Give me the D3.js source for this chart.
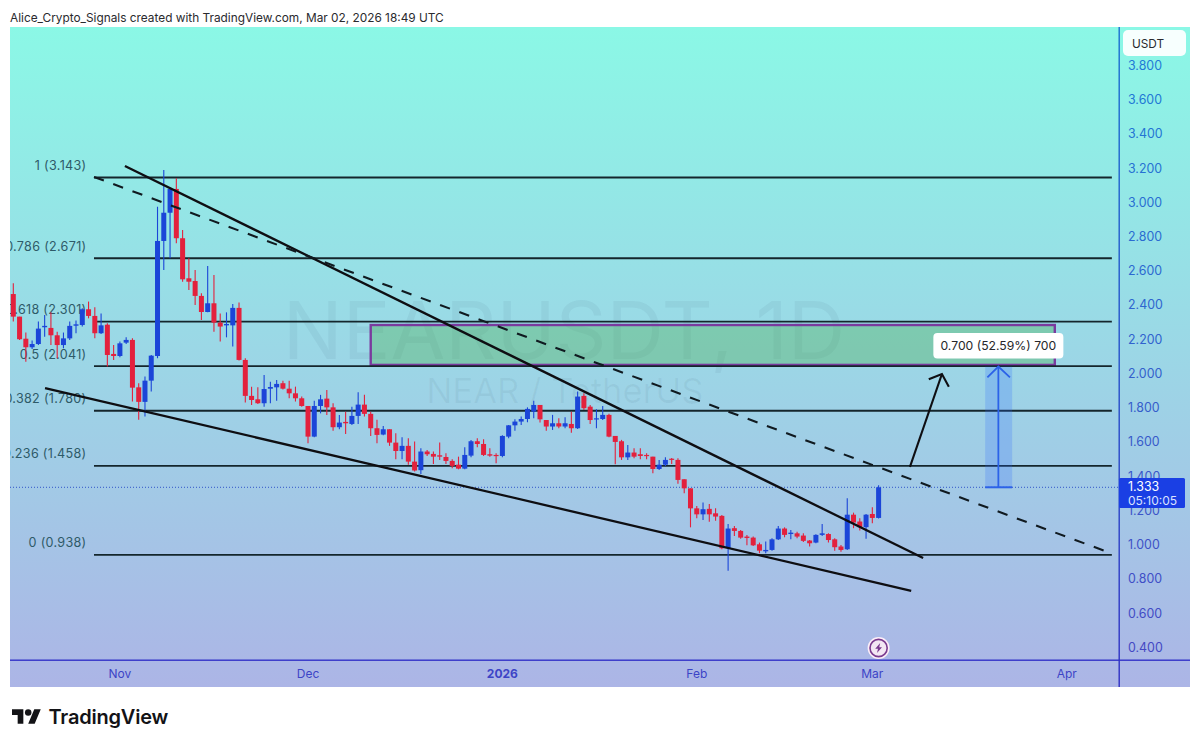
<!DOCTYPE html>
<html><head><meta charset="utf-8">
<script src="https://cdnjs.cloudflare.com/ajax/libs/d3/7.8.5/d3.min.js"></script>
<style>html,body{margin:0;padding:0;background:#fff;overflow:hidden}svg{display:block;font-family:Inter,"Noto Sans",sans-serif}</style>
</head><body><svg id="c" width="1200" height="747"></svg>
<script>
// Daily candles, first candle = 15 Oct 2025, index = day number
const opens=[2.462,2.330,2.201,2.151,2.170,2.268,2.264,2.221,2.164,2.203,
2.277,2.281,2.373,2.334,2.233,2.283,2.112,2.100,2.178,2.194,
1.917,1.832,1.956,2.100,2.772,2.937,3.076,2.788,2.554,2.538,
2.451,2.357,2.408,2.295,2.279,2.279,2.381,2.077,1.867,1.847,
1.824,1.909,1.917,1.941,1.909,1.882,1.853,1.808,1.629,1.808,
1.851,1.800,1.684,1.715,1.703,1.750,1.816,1.762,1.678,1.641,
1.672,1.594,1.545,1.575,1.483,1.433,1.542,1.528,1.520,1.510,
1.487,1.465,1.442,1.518,1.602,1.586,1.526,1.522,1.516,1.629,
1.695,1.717,1.732,1.775,1.814,1.726,1.688,1.707,1.688,1.703,
1.678,1.867,1.804,1.730,1.732,1.756,1.633,1.602,1.508,1.536,
1.526,1.522,1.512,1.440,1.465,1.500,1.493,1.380,1.327,1.210,
1.175,1.207,1.181,1.166,0.977,1.094,1.078,1.045,1.039,1.000,
0.959,0.967,1.029,1.092,1.060,1.064,1.051,1.022,1.010,1.055,
1.060,1.029,0.987,0.971,1.173,1.133,1.100,1.177,1.154];
const closes=[2.330,2.198,2.151,2.170,2.260,2.276,2.221,2.164,2.203,2.276,
2.285,2.373,2.334,2.233,2.279,2.106,2.100,2.174,2.194,1.915,
1.832,1.956,2.102,2.772,2.937,3.076,2.788,2.548,2.534,2.451,
2.357,2.408,2.295,2.272,2.287,2.381,2.077,1.867,1.843,1.824,
1.907,1.919,1.937,1.909,1.882,1.853,1.808,1.629,1.808,1.847,
1.800,1.684,1.711,1.707,1.750,1.816,1.762,1.678,1.639,1.672,
1.594,1.545,1.575,1.483,1.431,1.542,1.526,1.512,1.512,1.487,
1.458,1.442,1.522,1.602,1.586,1.522,1.518,1.516,1.633,1.695,
1.717,1.732,1.791,1.814,1.730,1.688,1.707,1.688,1.707,1.678,
1.863,1.795,1.726,1.736,1.756,1.629,1.598,1.508,1.536,1.512,
1.516,1.516,1.440,1.465,1.493,1.493,1.376,1.327,1.210,1.175,
1.205,1.175,1.162,0.977,1.092,1.078,1.039,1.037,0.994,0.963,
0.967,1.029,1.092,1.055,1.068,1.045,1.020,1.006,1.055,1.064,
1.025,0.983,0.967,1.173,1.127,1.100,1.173,1.154,1.333];
const highs=[2.525,2.330,2.237,2.190,2.301,2.340,2.355,2.242,2.237,2.301,
2.307,2.379,2.418,2.385,2.349,2.291,2.164,2.184,2.209,2.203,
1.941,1.980,2.106,2.972,3.187,3.080,3.138,2.836,2.671,2.603,
2.466,2.626,2.573,2.349,2.355,2.404,2.412,2.087,1.921,1.917,
1.989,1.950,1.960,1.956,1.956,1.921,1.863,1.808,1.839,1.873,
1.902,1.824,1.756,1.775,1.804,1.888,1.873,1.775,1.727,1.691,
1.672,1.649,1.625,1.619,1.600,1.561,1.551,1.542,1.594,1.532,
1.497,1.512,1.567,1.610,1.619,1.614,1.561,1.532,1.637,1.697,
1.730,1.746,1.800,1.839,1.814,1.726,1.756,1.736,1.742,1.775,
1.892,1.882,1.814,1.789,1.808,1.762,1.633,1.610,1.580,1.561,
1.561,1.532,1.512,1.493,1.508,1.504,1.502,1.380,1.327,1.224,
1.244,1.236,1.210,1.171,1.119,1.107,1.084,1.055,1.045,1.010,
1.016,1.035,1.107,1.099,1.084,1.074,1.064,1.025,1.059,1.119,
1.064,1.035,0.996,1.269,1.185,1.152,1.177,1.216,1.345];
const lows=[2.301,2.194,2.067,2.141,2.164,2.213,2.164,2.087,2.145,2.194,
2.233,2.272,2.320,2.203,2.229,2.038,2.077,2.092,2.170,1.834,
1.727,1.746,1.892,2.087,2.603,2.671,2.758,2.534,2.486,2.398,
2.311,2.355,2.242,2.184,2.209,2.155,2.073,1.828,1.814,1.820,
1.804,1.824,1.839,1.905,1.853,1.834,1.804,1.590,1.625,1.765,
1.756,1.664,1.672,1.645,1.697,1.703,1.746,1.633,1.590,1.637,
1.575,1.497,1.497,1.464,1.425,1.411,1.516,1.469,1.493,1.469,
1.444,1.438,1.438,1.508,1.567,1.516,1.512,1.473,1.508,1.619,
1.664,1.697,1.713,1.736,1.711,1.664,1.668,1.678,1.678,1.652,
1.674,1.785,1.703,1.678,1.726,1.625,1.467,1.493,1.493,1.502,
1.497,1.497,1.415,1.434,1.458,1.469,1.353,1.298,1.099,1.152,
1.142,1.132,1.138,0.971,0.846,1.049,1.033,0.994,0.990,0.948,
0.948,0.963,1.025,1.041,1.029,1.035,1.014,0.987,1.006,1.049,
1.010,0.963,0.957,0.967,1.094,1.080,1.033,1.123,1.150];

const priceTicks=[3.8,3.6,3.4,3.2,3.0,2.8,2.6,2.4,2.2,2.0,1.8,1.6,1.4,1.2,1.0,0.8,0.6,0.4];
const timeTickDays=[17,47,78,109,137,168];
const timeTickLabels=["Nov","Dec","2026","Feb","Mar","Apr"];

const fibLevels=[1,0.786,0.618,0.5,0.382,0.236,0];
const fibPrices=[3.143,2.671,2.301,2.041,1.780,1.458,0.938];
const fibDays=[12.87,175.2];

const trendUpper=[[17.8,3.210],[145.1,0.920]];
const trendDashed=[[12.87,3.146],[174.9,0.950]];
const trendLower=[[5.06,1.913],[143.2,0.728]];
const arrowShaft=[[143.0,1.452],[148.1,1.995]];
const arrowHead=[[146.0,1.964],[148.1,1.995],[149.2,1.921]];

const zoneDays=[57.0,166.1], zonePrices=[2.281,2.048];
const measureDays=[155.0,157.1,159.3], measurePrices=[2.038,1.333];
const measureHeadPrices=[1.975];
const lastPrice=1.333;

const W=1200,H=747,plotL=10,plotR=1190,plotT=27,plotB=687,paneR=1119,paneB=660;
const x=d3.scaleLinear().domain([0,138]).range([13.3,878.6]);
const y=d3.scaleLinear().domain([3.8,0.4]).range([65,647]);
const fmt=d3.format(".3f");
const red="#e3213d",blue="#1b45d8";
const tickColor=d3.scaleLinear().domain([65,647]).range(["#1f7ad6","#4448c4"]);
const svg=d3.select("#c");
const defs=svg.append("defs");
const g=defs.append("linearGradient").attr("id","bg").attr("x1",0).attr("x2",0).attr("y1",0).attr("y2",1);
g.append("stop").attr("offset",0).attr("stop-color","#8bf8e6");
g.append("stop").attr("offset",1).attr("stop-color","#acb5e6");
const ag=defs.append("linearGradient").attr("id","axisLine").attr("gradientUnits","userSpaceOnUse").attr("x1",0).attr("x2",0).attr("y1",plotT).attr("y2",plotB);
ag.append("stop").attr("offset",0).attr("stop-color","#1a70d0");
ag.append("stop").attr("offset",1).attr("stop-color","#3030c4");
defs.append("clipPath").attr("id","pane").append("rect").attr("x",plotL).attr("y",plotT).attr("width",paneR-plotL).attr("height",paneB-plotT);

svg.append("text").attr("x",10).attr("y",21.5).attr("font-size",11.85).attr("fill","#2a2a2e").text("Alice_Crypto_Signals created with TradingView.com, Mar 02, 2026 18:49 UTC");
svg.append("rect").attr("x",plotL).attr("y",plotT).attr("width",plotR-plotL).attr("height",plotB-plotT).attr("fill","url(#bg)");

const pane=svg.append("g").attr("clip-path","url(#pane)");
pane.append("text").attr("x",564).attr("y",359).attr("text-anchor","middle").attr("font-size",79.5).attr("fill","#1d3a50").attr("fill-opacity",.06).text("NEARUSDT, 1D");
pane.append("text").attr("x",565).attr("y",403).attr("text-anchor","middle").attr("font-size",34.5).attr("fill","#1d3a50").attr("fill-opacity",.06).text("NEAR / TetherUS");

pane.append("rect").attr("x",x(zoneDays[0])).attr("y",y(zonePrices[0])).attr("width",x(zoneDays[1])-x(zoneDays[0])).attr("height",y(zonePrices[1])-y(zonePrices[0]))
 .attr("fill","#4caf50").attr("fill-opacity",.36).attr("stroke","#7a3a9e").attr("stroke-width",2.4);

// Fibonacci
pane.selectAll(".fib").data(fibPrices).join("line").attr("class","fib").attr("x1",x(fibDays[0])).attr("x2",x(fibDays[1])).attr("y1",d=>y(d)).attr("y2",d=>y(d)).attr("stroke","#14262c").attr("stroke-width",1.9);
pane.selectAll(".fibl").data(fibPrices).join("text").attr("class","fibl").attr("x",x(fibDays[0])-7.5).attr("y",d=>y(d)-12).attr("dy","0.35em").attr("text-anchor","end").attr("font-size",12.6).attr("letter-spacing",".3").attr("fill","#2e5a68").text((d,i)=>`${fibLevels[i]} (${fmt(d)})`);

// Last price line
pane.append("line").attr("x1",plotL).attr("x2",paneR).attr("y1",y(lastPrice)).attr("y2",y(lastPrice)).attr("stroke","#2f55c8").attr("stroke-width",1).attr("stroke-dasharray","1 2");

// Candles
const idx=d3.range(opens.length);
const col=i=>closes[i]>=opens[i]?blue:red;
pane.selectAll(".wick").data(idx).join("line").attr("class","wick").attr("x1",i=>x(i)).attr("x2",i=>x(i)).attr("y1",i=>y(highs[i])).attr("y2",i=>y(lows[i])).attr("stroke",col).attr("stroke-width",1.1);
pane.selectAll(".body").data(idx).join("rect").attr("class","body").attr("x",i=>x(i)-2.5).attr("width",5).attr("y",i=>y(Math.max(opens[i],closes[i]))).attr("height",i=>Math.max(1.2,Math.abs(y(opens[i])-y(closes[i])))).attr("fill",col);

// Trend lines
const ln=d3.line().x(d=>x(d[0])).y(d=>y(d[1]));
pane.append("path").attr("d",ln(trendUpper)).attr("fill","none").attr("stroke","#0e0e12").attr("stroke-width",2.3);
pane.append("path").attr("d",ln(trendLower)).attr("fill","none").attr("stroke","#0e0e12").attr("stroke-width",2.3);
pane.append("path").attr("d",ln(trendDashed)).attr("fill","none").attr("stroke","#101a20").attr("stroke-width",2.1).attr("stroke-dasharray","10.5 10");
pane.append("path").attr("d",ln(arrowShaft)).attr("fill","none").attr("stroke","#0e0e12").attr("stroke-width",2.1);
pane.append("path").attr("d",ln(arrowHead)).attr("fill","none").attr("stroke","#0e0e12").attr("stroke-width",2.1);

// Measure tool
pane.append("rect").attr("x",x(measureDays[0])).attr("width",x(measureDays[2])-x(measureDays[0])).attr("y",y(measurePrices[0])).attr("height",y(measurePrices[1])-y(measurePrices[0])).attr("fill","#2f6bff").attr("fill-opacity",.22);
pane.append("path").attr("d",ln([[measureDays[1],measurePrices[0]],[measureDays[1],measurePrices[1]]])).attr("stroke","#2c62e8").attr("stroke-width",1.8).attr("fill","none");
pane.append("path").attr("d",ln([[measureDays[0],measurePrices[1]],[measureDays[2],measurePrices[1]]])).attr("stroke","#2c62e8").attr("stroke-width",2).attr("fill","none");
pane.append("path").attr("d",ln([[measureDays[0]+.35,measureHeadPrices[0]],[measureDays[1],measurePrices[0]],[measureDays[2]-.35,measureHeadPrices[0]]])).attr("stroke","#2c62e8").attr("stroke-width",1.8).attr("fill","none");

// Measure label
const mx=x(measureDays[1]);
pane.append("rect").attr("x",mx-65).attr("y",333).attr("width",130).attr("height",25.5).attr("rx",4).attr("fill","#fff");
pane.append("text").attr("x",mx).attr("y",346).attr("dy","0.35em").attr("text-anchor","middle").attr("font-size",12.2).attr("fill","#26262a").text("0.700 (52.59%) 700");

// Axes
svg.append("rect").attr("x",plotL).attr("width",plotR-plotL).attr("y",paneB-.5).attr("height",1.4).attr("fill","#3232c8");
svg.append("rect").attr("x",paneR-.5).attr("width",1.4).attr("y",plotT).attr("height",plotB-plotT).attr("fill","url(#axisLine)");

svg.selectAll(".pt").data(priceTicks).join("text").attr("class","pt").attr("x",1128).attr("y",d=>y(d)+.5).attr("dy","0.35em").attr("font-size",12.4).attr("fill",d=>tickColor(y(d))).text(fmt);
svg.selectAll(".tt").data(timeTickDays).join("text").attr("class","tt").attr("x",d=>x(d)).attr("y",674).attr("dy","0.35em").attr("text-anchor","middle").attr("font-size",12).attr("font-weight",(d,i)=>timeTickLabels[i]==="2026"?700:400).attr("fill","#3c44c6").text((d,i)=>timeTickLabels[i]);

svg.append("rect").attr("x",1123).attr("y",30).attr("width",63).attr("height",26).attr("rx",5).attr("fill","#fff").attr("fill-opacity",.93);
svg.append("text").attr("x",1132).attr("y",43.5).attr("dy","0.35em").attr("font-size",11.8).attr("fill","#2a2a2e").text("USDT");

// Price tag
svg.append("rect").attr("x",paneR).attr("y",478).attr("width",66).attr("height",30).attr("rx",1.5).attr("fill","#1a3fe4");
svg.append("text").attr("x",1128).attr("y",487).attr("dy","0.35em").attr("font-size",12.4).attr("fill","#fff").text(fmt(lastPrice));
svg.append("text").attr("x",1128).attr("y",501).attr("dy","0.35em").attr("font-size",12).attr("fill","#dbe2ff").text("05:10:05");

// Lightning badge
const ic=svg.append("g").attr("transform",`translate(${x(138)},648)`);
ic.append("circle").attr("r",11).attr("fill","#fdeef8");
ic.append("circle").attr("r",8.6).attr("fill","#f3e6f3").attr("stroke","#7a3a8e").attr("stroke-width",1.6);
ic.append("path").attr("d","M1.6-5L-3.4 0.8H-0.6L-1.6 5L3.4-0.8H0.6Z").attr("fill","#7a3a8e");

// Logo
const logo=svg.append("g").attr("transform","translate(12,706) scale(.81)").attr("fill","#131316");
logo.append("path").attr("d","M14 22H7V11H0V4h14v18zM28 22h-8l7.5-18h8L28 22z");
logo.append("circle").attr("cx",20).attr("cy",8).attr("r",4);
svg.append("text").attr("x",48.5).attr("y",724).attr("font-size",20).attr("font-weight",600).attr("fill","#131316").attr("letter-spacing","-0.2").text("TradingView");
</script></body></html>
